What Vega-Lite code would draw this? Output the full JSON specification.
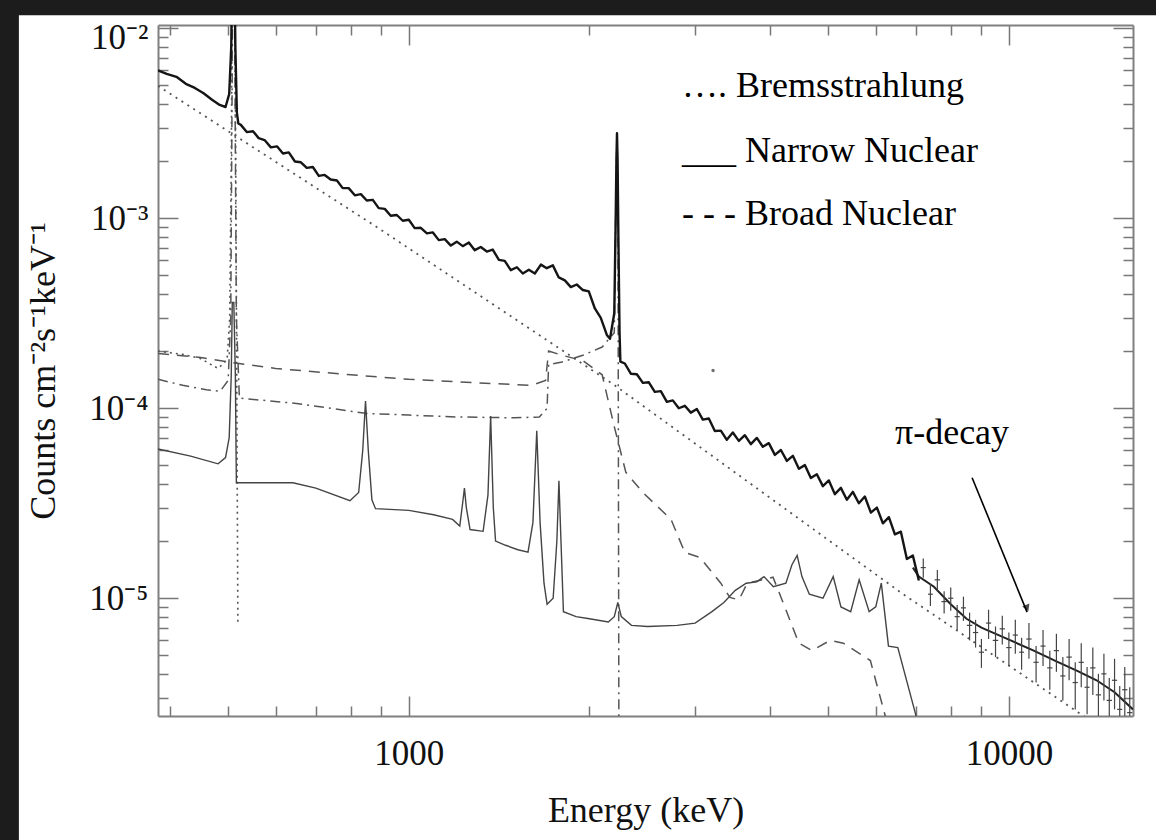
{
  "$schema": "https://vega.github.io/schema/vega-lite/v6.json",
  "width": 975,
  "height": 691,
  "autosize": {"type": "none"},
  "padding": {"left": 158, "top": 25, "right": 23, "bottom": 124},
  "background": "#ffffff",
  "config": {
    "view": {"stroke": null},
    "font": "Liberation Serif",
    "axis": {
      "labelFont": "Liberation Serif",
      "titleFont": "Liberation Serif",
      "labelColor": "#111",
      "titleColor": "#111",
      "labelFontSize": 35,
      "titleFontSize": 36,
      "titleFontWeight": "normal",
      "domainColor": "#808080",
      "domainWidth": 2,
      "tickColor": "#777",
      "tickWidth": 1.5,
      "grid": false
    }
  },
  "datasets": {
    "frame": [{"x": 1, "x2": 224, "y": 1e-9, "y2": 100}, {"x": 1, "x2": 10000000, "y": 0.01169, "y2": 100}],
    "obs": [
      {"x": 382, "y": 0.0060}, {"x": 395, "y": 0.00575}, {"x": 410, "y": 0.00555}, {"x": 425, "y": 0.0051},
      {"x": 440, "y": 0.00485}, {"x": 455, "y": 0.00455}, {"x": 470, "y": 0.0042}, {"x": 484, "y": 0.00395},
      {"x": 495, "y": 0.00385}, {"x": 502, "y": 0.0045}, {"x": 506, "y": 0.008}, {"x": 508, "y": 0.025},
      {"x": 512, "y": 0.025}, {"x": 514, "y": 0.008}, {"x": 517, "y": 0.0036}, {"x": 520, "y": 0.00315},
      {"x": 525, "y": 0.00310}, {"x": 537, "y": 0.00284}, {"x": 550, "y": 0.00287}, {"x": 562, "y": 0.00264},
      {"x": 575, "y": 0.00258}, {"x": 589, "y": 0.00236}, {"x": 603, "y": 0.00239}, {"x": 617, "y": 0.00219},
      {"x": 631, "y": 0.00222}, {"x": 646, "y": 0.00199}, {"x": 661, "y": 0.00197}, {"x": 676, "y": 0.00184},
      {"x": 692, "y": 0.00186}, {"x": 708, "y": 0.00167}, {"x": 724, "y": 0.00169}, {"x": 741, "y": 0.00160},
      {"x": 759, "y": 0.00158}, {"x": 776, "y": 0.00144}, {"x": 794, "y": 0.00144}, {"x": 813, "y": 0.00132},
      {"x": 832, "y": 0.00134}, {"x": 851, "y": 0.00124}, {"x": 871, "y": 0.00125}, {"x": 891, "y": 0.00113},
      {"x": 912, "y": 0.00112}, {"x": 933, "y": 0.00103}, {"x": 955, "y": 0.00104}, {"x": 977, "y": 0.000970},
      {"x": 1000, "y": 0.000982}, {"x": 1023, "y": 0.000887}, {"x": 1047, "y": 0.000891}, {"x": 1072, "y": 0.000832},
      {"x": 1096, "y": 0.000843}, {"x": 1122, "y": 0.000767}, {"x": 1148, "y": 0.000776}, {"x": 1175, "y": 0.000718},
      {"x": 1202, "y": 0.000753}, {"x": 1230, "y": 0.000713}, {"x": 1259, "y": 0.000746}, {"x": 1288, "y": 0.000679},
      {"x": 1318, "y": 0.000706}, {"x": 1349, "y": 0.000668}, {"x": 1380, "y": 0.000684}, {"x": 1413, "y": 0.000604},
      {"x": 1445, "y": 0.000596}, {"x": 1479, "y": 0.000533}, {"x": 1514, "y": 0.000552}, {"x": 1549, "y": 0.000512},
      {"x": 1585, "y": 0.000536}, {"x": 1622, "y": 0.000512}, {"x": 1660, "y": 0.000570}, {"x": 1698, "y": 0.000546},
      {"x": 1738, "y": 0.000565}, {"x": 1778, "y": 0.000488}, {"x": 1820, "y": 0.000471}, {"x": 1862, "y": 0.000434},
      {"x": 1905, "y": 0.000448}, {"x": 1950, "y": 0.000419}, {"x": 1995, "y": 0.000412}, {"x": 2042, "y": 0.000335},
      {"x": 2089, "y": 0.000299}, {"x": 2138, "y": 0.000243}, {"x": 2164, "y": 0.000232}, {"x": 2200, "y": 0.000316},
      {"x": 2212, "y": 0.0010}, {"x": 2218, "y": 0.0020}, {"x": 2223, "y": 0.0028}, {"x": 2228, "y": 0.0020},
      {"x": 2235, "y": 0.00079}, {"x": 2245, "y": 0.00025}, {"x": 2252, "y": 0.000176}, {"x": 2291, "y": 0.000172},
      {"x": 2344, "y": 0.000152}, {"x": 2399, "y": 0.000151}, {"x": 2455, "y": 0.000136}, {"x": 2512, "y": 0.000137},
      {"x": 2570, "y": 0.000122}, {"x": 2630, "y": 0.000123}, {"x": 2692, "y": 0.000108}, {"x": 2754, "y": 0.000110},
      {"x": 2818, "y": 0.000100}, {"x": 2884, "y": 0.000103}, {"x": 2951, "y": 0.0000948}, {"x": 3020, "y": 0.0000991},
      {"x": 3090, "y": 0.0000871}, {"x": 3162, "y": 0.0000883}, {"x": 3236, "y": 0.0000759}, {"x": 3311, "y": 0.0000762},
      {"x": 3388, "y": 0.0000682}, {"x": 3467, "y": 0.0000745}, {"x": 3548, "y": 0.0000673}, {"x": 3631, "y": 0.0000721},
      {"x": 3715, "y": 0.0000647}, {"x": 3802, "y": 0.0000698}, {"x": 3890, "y": 0.0000627}, {"x": 3981, "y": 0.0000655},
      {"x": 4074, "y": 0.0000568}, {"x": 4169, "y": 0.0000603}, {"x": 4266, "y": 0.0000528}, {"x": 4365, "y": 0.0000562},
      {"x": 4467, "y": 0.0000480}, {"x": 4571, "y": 0.0000502}, {"x": 4677, "y": 0.0000429}, {"x": 4786, "y": 0.0000449},
      {"x": 4898, "y": 0.0000389}, {"x": 5012, "y": 0.0000417}, {"x": 5129, "y": 0.0000353}, {"x": 5248, "y": 0.0000381},
      {"x": 5370, "y": 0.0000330}, {"x": 5495, "y": 0.0000363}, {"x": 5623, "y": 0.0000316}, {"x": 5754, "y": 0.0000343},
      {"x": 5888, "y": 0.0000282}, {"x": 6026, "y": 0.0000300}, {"x": 6166, "y": 0.0000248}, {"x": 6310, "y": 0.0000267},
      {"x": 6457, "y": 0.0000217}, {"x": 6607, "y": 0.0000224}, {"x": 6761, "y": 0.0000161}, {"x": 6918, "y": 0.0000168},
      {"x": 7079, "y": 0.0000124}
    ],
    "model": [
      {"x": 6918, "y": 0.0000145}, {"x": 7079, "y": 0.0000130}, {"x": 7500, "y": 0.0000115}, {"x": 8000, "y": 0.0000093},
      {"x": 8500, "y": 0.0000078}, {"x": 9000, "y": 0.0000070}, {"x": 10000, "y": 0.00000605}, {"x": 11000, "y": 0.0000053},
      {"x": 12000, "y": 0.00000465}, {"x": 13000, "y": 0.00000415}, {"x": 14000, "y": 0.0000037}, {"x": 15000, "y": 0.0000032},
      {"x": 16100, "y": 0.0000026}
    ],
    "brems": [
      {"x": 382, "y": 0.00497}, {"x": 896, "y": 0.000875}, {"x": 2189, "y": 0.000134}, {"x": 6637, "y": 0.0000106},
      {"x": 16100, "y": 0.0000016}
    ],
    "pos": [
      {"x": 382, "y": 0.000200}, {"x": 420, "y": 0.000192}, {"x": 449, "y": 0.000183}, {"x": 481, "y": 0.000162},
      {"x": 498, "y": 0.000180}, {"x": 503, "y": 0.00030}, {"x": 506, "y": 0.0020}, {"x": 508, "y": 0.02},
      {"x": 513, "y": 0.02}, {"x": 519, "y": 0.0000075}
    ],
    "broad": [
      {"x": 382, "y": 0.000194}, {"x": 450, "y": 0.000185}, {"x": 500, "y": 0.000175}, {"x": 600, "y": 0.000162},
      {"x": 800, "y": 0.000150}, {"x": 1000, "y": 0.000142}, {"x": 1300, "y": 0.000136}, {"x": 1600, "y": 0.000132},
      {"x": 1690, "y": 0.000140}, {"x": 1710, "y": 0.000200}, {"x": 1800, "y": 0.000190}, {"x": 1950, "y": 0.000178},
      {"x": 2100, "y": 0.000150}, {"x": 2200, "y": 0.000080}, {"x": 2300, "y": 0.000046}, {"x": 2455, "y": 0.000036},
      {"x": 2735, "y": 0.000026}, {"x": 2884, "y": 0.0000174}, {"x": 3055, "y": 0.0000164}, {"x": 3311, "y": 0.000012},
      {"x": 3428, "y": 0.0000101}, {"x": 3550, "y": 0.0000098}, {"x": 3664, "y": 0.000012}, {"x": 4045, "y": 0.0000129},
      {"x": 4188, "y": 0.0000098}, {"x": 4467, "y": 0.0000058}, {"x": 4700, "y": 0.0000053}, {"x": 5035, "y": 0.0000060},
      {"x": 5300, "y": 0.0000058}, {"x": 5877, "y": 0.0000047}, {"x": 6223, "y": 0.0000024}, {"x": 6400, "y": 0.0000015}
    ],
    "dashdot": [
      {"x": 382, "y": 0.000142}, {"x": 420, "y": 0.000132}, {"x": 460, "y": 0.000125}, {"x": 485, "y": 0.000123},
      {"x": 500, "y": 0.000140}, {"x": 505, "y": 0.00030}, {"x": 509, "y": 0.02}, {"x": 512, "y": 0.02},
      {"x": 516, "y": 0.00030}, {"x": 522, "y": 0.000113}, {"x": 650, "y": 0.000106}, {"x": 847, "y": 0.000094},
      {"x": 1000, "y": 0.000092}, {"x": 1200, "y": 0.000090}, {"x": 1500, "y": 0.000089}, {"x": 1650, "y": 0.000090},
      {"x": 1700, "y": 0.000100}, {"x": 1710, "y": 0.000170}, {"x": 1800, "y": 0.000175}, {"x": 1950, "y": 0.000190},
      {"x": 2100, "y": 0.000210}, {"x": 2200, "y": 0.000250}, {"x": 2215, "y": 0.0015}, {"x": 2223, "y": 0.0028},
      {"x": 2231, "y": 0.0015}, {"x": 2240, "y": 0.000001}
    ],
    "narrow": [
      {"x": 382, "y": 0.000061}, {"x": 433, "y": 0.000056}, {"x": 481, "y": 0.000051}, {"x": 495, "y": 0.000055},
      {"x": 502, "y": 0.000070}, {"x": 506, "y": 0.00015}, {"x": 508, "y": 0.00036}, {"x": 511, "y": 0.00036},
      {"x": 514, "y": 0.00015}, {"x": 516, "y": 0.0000405}, {"x": 641, "y": 0.0000405}, {"x": 700, "y": 0.000038},
      {"x": 798, "y": 0.0000326}, {"x": 825, "y": 0.000036}, {"x": 838, "y": 0.000060}, {"x": 847, "y": 0.000109},
      {"x": 856, "y": 0.000060}, {"x": 868, "y": 0.000033}, {"x": 880, "y": 0.0000296}, {"x": 1000, "y": 0.000029},
      {"x": 1100, "y": 0.0000275}, {"x": 1183, "y": 0.000026}, {"x": 1216, "y": 0.000024}, {"x": 1230, "y": 0.000032},
      {"x": 1238, "y": 0.000038}, {"x": 1247, "y": 0.000030}, {"x": 1265, "y": 0.000023}, {"x": 1330, "y": 0.0000225},
      {"x": 1355, "y": 0.000035}, {"x": 1369, "y": 0.000091}, {"x": 1383, "y": 0.000030}, {"x": 1395, "y": 0.000020},
      {"x": 1450, "y": 0.000019}, {"x": 1520, "y": 0.000018}, {"x": 1580, "y": 0.0000175}, {"x": 1610, "y": 0.000025},
      {"x": 1634, "y": 0.000076}, {"x": 1655, "y": 0.000025}, {"x": 1680, "y": 0.000012}, {"x": 1700, "y": 0.0000093},
      {"x": 1740, "y": 0.000010}, {"x": 1765, "y": 0.000020}, {"x": 1779, "y": 0.0000415}, {"x": 1793, "y": 0.000020},
      {"x": 1810, "y": 0.0000085}, {"x": 1900, "y": 0.000008}, {"x": 2000, "y": 0.0000078}, {"x": 2150, "y": 0.0000075},
      {"x": 2200, "y": 0.000008}, {"x": 2230, "y": 0.0000095}, {"x": 2260, "y": 0.000008}, {"x": 2350, "y": 0.0000072},
      {"x": 2500, "y": 0.0000071}, {"x": 2800, "y": 0.0000072}, {"x": 3000, "y": 0.0000074}, {"x": 3200, "y": 0.0000085},
      {"x": 3350, "y": 0.0000095}, {"x": 3500, "y": 0.000011}, {"x": 3650, "y": 0.000012}, {"x": 3800, "y": 0.0000122},
      {"x": 3908, "y": 0.000013}, {"x": 4050, "y": 0.0000115}, {"x": 4250, "y": 0.000012}, {"x": 4350, "y": 0.000015},
      {"x": 4438, "y": 0.0000168}, {"x": 4520, "y": 0.000013}, {"x": 4650, "y": 0.0000105}, {"x": 4900, "y": 0.000010},
      {"x": 5096, "y": 0.000013}, {"x": 5250, "y": 0.000009}, {"x": 5450, "y": 0.0000085}, {"x": 5630, "y": 0.0000125},
      {"x": 5850, "y": 0.0000085}, {"x": 6000, "y": 0.000009}, {"x": 6129, "y": 0.000012}, {"x": 6300, "y": 0.0000056},
      {"x": 6530, "y": 0.0000055}, {"x": 6980, "y": 0.0000025}, {"x": 7100, "y": 0.000002}
    ],
    "err": [
      {"e": 7200, "v": 1.45e-5, "lo": 1.28e-5, "hi": 1.62e-5, "elo": 7130, "ehi": 7270},
      {"e": 7400, "v": 1.05e-5, "lo": 9.1e-6, "hi": 1.19e-5, "elo": 7330, "ehi": 7470},
      {"e": 7600, "v": 1.25e-5, "lo": 1.09e-5, "hi": 1.41e-5, "elo": 7520, "ehi": 7680},
      {"e": 7800, "v": 9.6e-6, "lo": 8.3e-6, "hi": 1.09e-5, "elo": 7720, "ehi": 7880},
      {"e": 8000, "v": 1.0e-5, "lo": 8.6e-6, "hi": 1.14e-5, "elo": 7920, "ehi": 8080},
      {"e": 8200, "v": 8.0e-6, "lo": 6.8e-6, "hi": 9.2e-6, "elo": 8120, "ehi": 8280},
      {"e": 8400, "v": 8.9e-6, "lo": 7.6e-6, "hi": 1.02e-5, "elo": 8320, "ehi": 8480},
      {"e": 8600, "v": 7.2e-6, "lo": 6.0e-6, "hi": 8.4e-6, "elo": 8510, "ehi": 8690},
      {"e": 8800, "v": 6.6e-6, "lo": 5.5e-6, "hi": 7.7e-6, "elo": 8710, "ehi": 8890},
      {"e": 9000, "v": 5.2e-6, "lo": 4.3e-6, "hi": 6.1e-6, "elo": 8910, "ehi": 9090},
      {"e": 9250, "v": 7.4e-6, "lo": 6.1e-6, "hi": 8.7e-6, "elo": 9160, "ehi": 9340},
      {"e": 9500, "v": 6.0e-6, "lo": 4.9e-6, "hi": 7.1e-6, "elo": 9400, "ehi": 9600},
      {"e": 9750, "v": 6.9e-6, "lo": 5.7e-6, "hi": 8.1e-6, "elo": 9650, "ehi": 9850},
      {"e": 10000, "v": 5.5e-6, "lo": 4.4e-6, "hi": 6.6e-6, "elo": 9900, "ehi": 10100},
      {"e": 10250, "v": 6.4e-6, "lo": 5.1e-6, "hi": 7.7e-6, "elo": 10150, "ehi": 10350},
      {"e": 10500, "v": 5.2e-6, "lo": 4.2e-6, "hi": 6.2e-6, "elo": 10400, "ehi": 10600},
      {"e": 10800, "v": 6.1e-6, "lo": 4.8e-6, "hi": 7.4e-6, "elo": 10690, "ehi": 10910},
      {"e": 11100, "v": 4.6e-6, "lo": 3.6e-6, "hi": 5.6e-6, "elo": 10990, "ehi": 11210},
      {"e": 11400, "v": 5.6e-6, "lo": 4.4e-6, "hi": 6.8e-6, "elo": 11290, "ehi": 11510},
      {"e": 11700, "v": 4.3e-6, "lo": 3.3e-6, "hi": 5.3e-6, "elo": 11580, "ehi": 11820},
      {"e": 12000, "v": 5.3e-6, "lo": 4.1e-6, "hi": 6.5e-6, "elo": 11880, "ehi": 12120},
      {"e": 12300, "v": 3.9e-6, "lo": 2.9e-6, "hi": 4.9e-6, "elo": 12180, "ehi": 12420},
      {"e": 12600, "v": 4.9e-6, "lo": 3.7e-6, "hi": 6.1e-6, "elo": 12470, "ehi": 12730},
      {"e": 12900, "v": 3.6e-6, "lo": 2.6e-6, "hi": 4.6e-6, "elo": 12770, "ehi": 13030},
      {"e": 13200, "v": 4.6e-6, "lo": 3.4e-6, "hi": 5.8e-6, "elo": 13070, "ehi": 13330},
      {"e": 13500, "v": 3.4e-6, "lo": 2.45e-6, "hi": 4.35e-6, "elo": 13370, "ehi": 13630},
      {"e": 13800, "v": 4.3e-6, "lo": 3.1e-6, "hi": 5.5e-6, "elo": 13660, "ehi": 13940},
      {"e": 14100, "v": 3.1e-6, "lo": 2.2e-6, "hi": 4.0e-6, "elo": 13960, "ehi": 14240},
      {"e": 14400, "v": 4.0e-6, "lo": 2.9e-6, "hi": 5.1e-6, "elo": 14260, "ehi": 14540},
      {"e": 14700, "v": 2.9e-6, "lo": 2.0e-6, "hi": 3.8e-6, "elo": 14550, "ehi": 14850},
      {"e": 15000, "v": 3.7e-6, "lo": 2.6e-6, "hi": 4.8e-6, "elo": 14850, "ehi": 15150},
      {"e": 15300, "v": 2.6e-6, "lo": 1.75e-6, "hi": 3.45e-6, "elo": 15150, "ehi": 15450},
      {"e": 15600, "v": 3.3e-6, "lo": 2.25e-6, "hi": 4.35e-6, "elo": 15440, "ehi": 15760},
      {"e": 15900, "v": 2.5e-6, "lo": 1.6e-6, "hi": 3.4e-6, "elo": 15740, "ehi": 16060}
    ],
    "stray": [{"x": 3214, "y": 0.000158}],
    "legend": [
      {"x": 2853, "y": 0.00497, "label": "…. Bremsstrahlung"},
      {"x": 2853, "y": 0.00227, "label": "___ Narrow Nuclear"},
      {"x": 2853, "y": 0.00105, "label": "- - - Broad Nuclear"}
    ],
    "note": [{"x": 8040, "y": 0.000074, "label": "π-decay"}],
    "arrow": [{"x": 8684, "y": 0.0000431, "x2": 10723, "y2": 0.00000845}]
  },
  "resolve": {"axis": {"x": "independent", "y": "independent"}},
  "layer": [
    {
      "data": {"name": "frame"},
      "mark": {"type": "rect", "color": "#1c1c1c"},
      "encoding": {
        "x": {"field": "x", "type": "quantitative",
          "scale": {"type": "log", "domain": [382, 16100]},
          "title": "Energy (keV)",
          "axis": {"orient": "bottom", "values": [400, 500, 600, 700, 800, 900, 1000, 2000, 3000, 4000, 5000, 6000, 7000, 8000, 9000, 10000],
            "labelExpr": "datum.value == 1000 || datum.value == 10000 ? format(datum.value, 'd') : ''",
            "tickSize": {"condition": {"test": "datum.value == 1000 || datum.value == 10000", "value": -20}, "value": -10},
            "labelPadding": 40, "titlePadding": 12, "labelFlush": false, "labelOverlap": false}},
        "x2": {"field": "x2"},
        "y": {"field": "y", "type": "quantitative",
          "scale": {"type": "log", "domain": [0.0000024, 0.0104]},
          "title": "Counts cm⁻²s⁻¹keV⁻¹",
          "axis": {"orient": "left", "values": [0.000003, 0.000004, 0.000005, 0.000006, 0.000007, 0.000008, 0.000009, 0.00001, 0.00002, 0.00003, 0.00004, 0.00005, 0.00006, 0.00007, 0.00008, 0.00009, 0.0001, 0.0002, 0.0003, 0.0004, 0.0005, 0.0006, 0.0007, 0.0008, 0.0009, 0.001, 0.002, 0.003, 0.004, 0.005, 0.006, 0.007, 0.008, 0.009, 0.01],
            "labelExpr": "abs(log(datum.value)/LN10 - round(log(datum.value)/LN10)) < 0.001 ? (datum.value > 0.005 ? '10⁻²' : datum.value > 0.0005 ? '10⁻³' : datum.value > 0.00005 ? '10⁻⁴' : '10⁻⁵') : ''",
            "labelOffset": {"condition": {"test": "datum.value > 0.005", "value": 9}, "value": 0},
            "tickSize": {"condition": {"test": "abs(log(datum.value)/LN10 - round(log(datum.value)/LN10)) < 0.001", "value": -20}, "value": -10},
            "labelPadding": 30, "titlePadding": 26, "labelFlush": false, "labelOverlap": false}},
        "y2": {"field": "y2"}
      }
    },
    {
      "data": {"name": "brems"},
      "mark": {"type": "line", "color": "#555", "strokeWidth": 1.8, "strokeDash": [2, 5], "clip": true},
      "encoding": {
        "x": {"field": "x", "type": "quantitative", "scale": {"type": "log", "domain": [382, 16100]},
          "axis": {"orient": "top", "values": [400, 500, 600, 700, 800, 900, 1000, 2000, 3000, 4000, 5000, 6000, 7000, 8000, 9000, 10000],
            "labels": false, "title": null,
            "tickSize": {"condition": {"test": "datum.value == 1000 || datum.value == 10000", "value": -20}, "value": -10}}},
        "y": {"field": "y", "type": "quantitative", "scale": {"type": "log", "domain": [0.0000024, 0.0104]},
          "axis": {"orient": "right", "values": [0.000003, 0.000004, 0.000005, 0.000006, 0.000007, 0.000008, 0.000009, 0.00001, 0.00002, 0.00003, 0.00004, 0.00005, 0.00006, 0.00007, 0.00008, 0.00009, 0.0001, 0.0002, 0.0003, 0.0004, 0.0005, 0.0006, 0.0007, 0.0008, 0.0009, 0.001, 0.002, 0.003, 0.004, 0.005, 0.006, 0.007, 0.008, 0.009, 0.01],
            "labels": false, "title": null,
            "tickSize": {"condition": {"test": "abs(log(datum.value)/LN10 - round(log(datum.value)/LN10)) < 0.001", "value": -20}, "value": -10}}}
      }
    },
    {
      "data": {"name": "pos"},
      "mark": {"type": "line", "color": "#555", "strokeWidth": 1.6, "strokeDash": [2, 4], "clip": true},
      "encoding": {
        "x": {"field": "x", "type": "quantitative", "scale": {"type": "log", "domain": [382, 16100]}, "axis": null},
        "y": {"field": "y", "type": "quantitative", "scale": {"type": "log", "domain": [0.0000024, 0.0104]}, "axis": null}
      }
    },
    {
      "data": {"name": "broad"},
      "mark": {"type": "line", "color": "#555", "strokeWidth": 1.5, "strokeDash": [11, 8], "clip": true},
      "encoding": {
        "x": {"field": "x", "type": "quantitative", "scale": {"type": "log", "domain": [382, 16100]}, "axis": null},
        "y": {"field": "y", "type": "quantitative", "scale": {"type": "log", "domain": [0.0000024, 0.0104]}, "axis": null}
      }
    },
    {
      "data": {"name": "dashdot"},
      "mark": {"type": "line", "color": "#555", "strokeWidth": 1.5, "strokeDash": [10, 5, 2, 5], "clip": true},
      "encoding": {
        "x": {"field": "x", "type": "quantitative", "scale": {"type": "log", "domain": [382, 16100]}, "axis": null},
        "y": {"field": "y", "type": "quantitative", "scale": {"type": "log", "domain": [0.0000024, 0.0104]}, "axis": null}
      }
    },
    {
      "data": {"name": "narrow"},
      "mark": {"type": "line", "color": "#444", "strokeWidth": 1.4, "clip": true},
      "encoding": {
        "x": {"field": "x", "type": "quantitative", "scale": {"type": "log", "domain": [382, 16100]}, "axis": null},
        "y": {"field": "y", "type": "quantitative", "scale": {"type": "log", "domain": [0.0000024, 0.0104]}, "axis": null}
      }
    },
    {
      "data": {"name": "model"},
      "mark": {"type": "line", "color": "#222", "strokeWidth": 2, "clip": true},
      "encoding": {
        "x": {"field": "x", "type": "quantitative", "scale": {"type": "log", "domain": [382, 16100]}, "axis": null},
        "y": {"field": "y", "type": "quantitative", "scale": {"type": "log", "domain": [0.0000024, 0.0104]}, "axis": null}
      }
    },
    {
      "data": {"name": "obs"},
      "mark": {"type": "line", "color": "#151515", "strokeWidth": 2.4, "strokeJoin": "round", "clip": true},
      "encoding": {
        "x": {"field": "x", "type": "quantitative", "scale": {"type": "log", "domain": [382, 16100]}, "axis": null},
        "y": {"field": "y", "type": "quantitative", "scale": {"type": "log", "domain": [0.0000024, 0.0104]}, "axis": null}
      }
    },
    {
      "data": {"name": "err"},
      "mark": {"type": "rule", "color": "#444", "strokeWidth": 1.2, "clip": true},
      "encoding": {
        "x": {"field": "e", "type": "quantitative", "scale": {"type": "log", "domain": [382, 16100]}, "axis": null},
        "y": {"field": "lo", "type": "quantitative", "scale": {"type": "log", "domain": [0.0000024, 0.0104]}, "axis": null},
        "y2": {"field": "hi"}
      }
    },
    {
      "data": {"name": "err"},
      "mark": {"type": "rule", "color": "#444", "strokeWidth": 1.2, "clip": true},
      "encoding": {
        "x": {"field": "elo", "type": "quantitative", "scale": {"type": "log", "domain": [382, 16100]}, "axis": null},
        "x2": {"field": "ehi"},
        "y": {"field": "v", "type": "quantitative", "scale": {"type": "log", "domain": [0.0000024, 0.0104]}, "axis": null}
      }
    },
    {
      "data": {"name": "stray"},
      "mark": {"type": "point", "filled": true, "color": "#333", "size": 12},
      "encoding": {
        "x": {"field": "x", "type": "quantitative", "scale": {"type": "log", "domain": [382, 16100]}, "axis": null},
        "y": {"field": "y", "type": "quantitative", "scale": {"type": "log", "domain": [0.0000024, 0.0104]}, "axis": null}
      }
    },
    {
      "data": {"name": "legend"},
      "mark": {"type": "text", "align": "left", "baseline": "middle", "font": "Liberation Serif", "fontSize": 36, "color": "#000"},
      "encoding": {
        "x": {"field": "x", "type": "quantitative", "scale": {"type": "log", "domain": [382, 16100]}, "axis": null},
        "y": {"field": "y", "type": "quantitative", "scale": {"type": "log", "domain": [0.0000024, 0.0104]}, "axis": null},
        "text": {"field": "label"}
      }
    },
    {
      "data": {"name": "note"},
      "mark": {"type": "text", "align": "center", "baseline": "middle", "font": "Liberation Serif", "fontSize": 36, "color": "#000"},
      "encoding": {
        "x": {"field": "x", "type": "quantitative", "scale": {"type": "log", "domain": [382, 16100]}, "axis": null},
        "y": {"field": "y", "type": "quantitative", "scale": {"type": "log", "domain": [0.0000024, 0.0104]}, "axis": null},
        "text": {"field": "label"}
      }
    },
    {
      "data": {"name": "arrow"},
      "mark": {"type": "rule", "color": "#000", "strokeWidth": 1.6},
      "encoding": {
        "x": {"field": "x", "type": "quantitative", "scale": {"type": "log", "domain": [382, 16100]}, "axis": null},
        "y": {"field": "y", "type": "quantitative", "scale": {"type": "log", "domain": [0.0000024, 0.0104]}, "axis": null},
        "x2": {"field": "x2"},
        "y2": {"field": "y2"}
      }
    },
    {
      "data": {"name": "arrow"},
      "mark": {"type": "point", "shape": "triangle-down", "filled": true, "color": "#000", "size": 60, "angle": 338, "yOffset": -4},
      "encoding": {
        "x": {"field": "x2", "type": "quantitative", "scale": {"type": "log", "domain": [382, 16100]}, "axis": null},
        "y": {"field": "y2", "type": "quantitative", "scale": {"type": "log", "domain": [0.0000024, 0.0104]}, "axis": null}
      }
    }
  ]
}
